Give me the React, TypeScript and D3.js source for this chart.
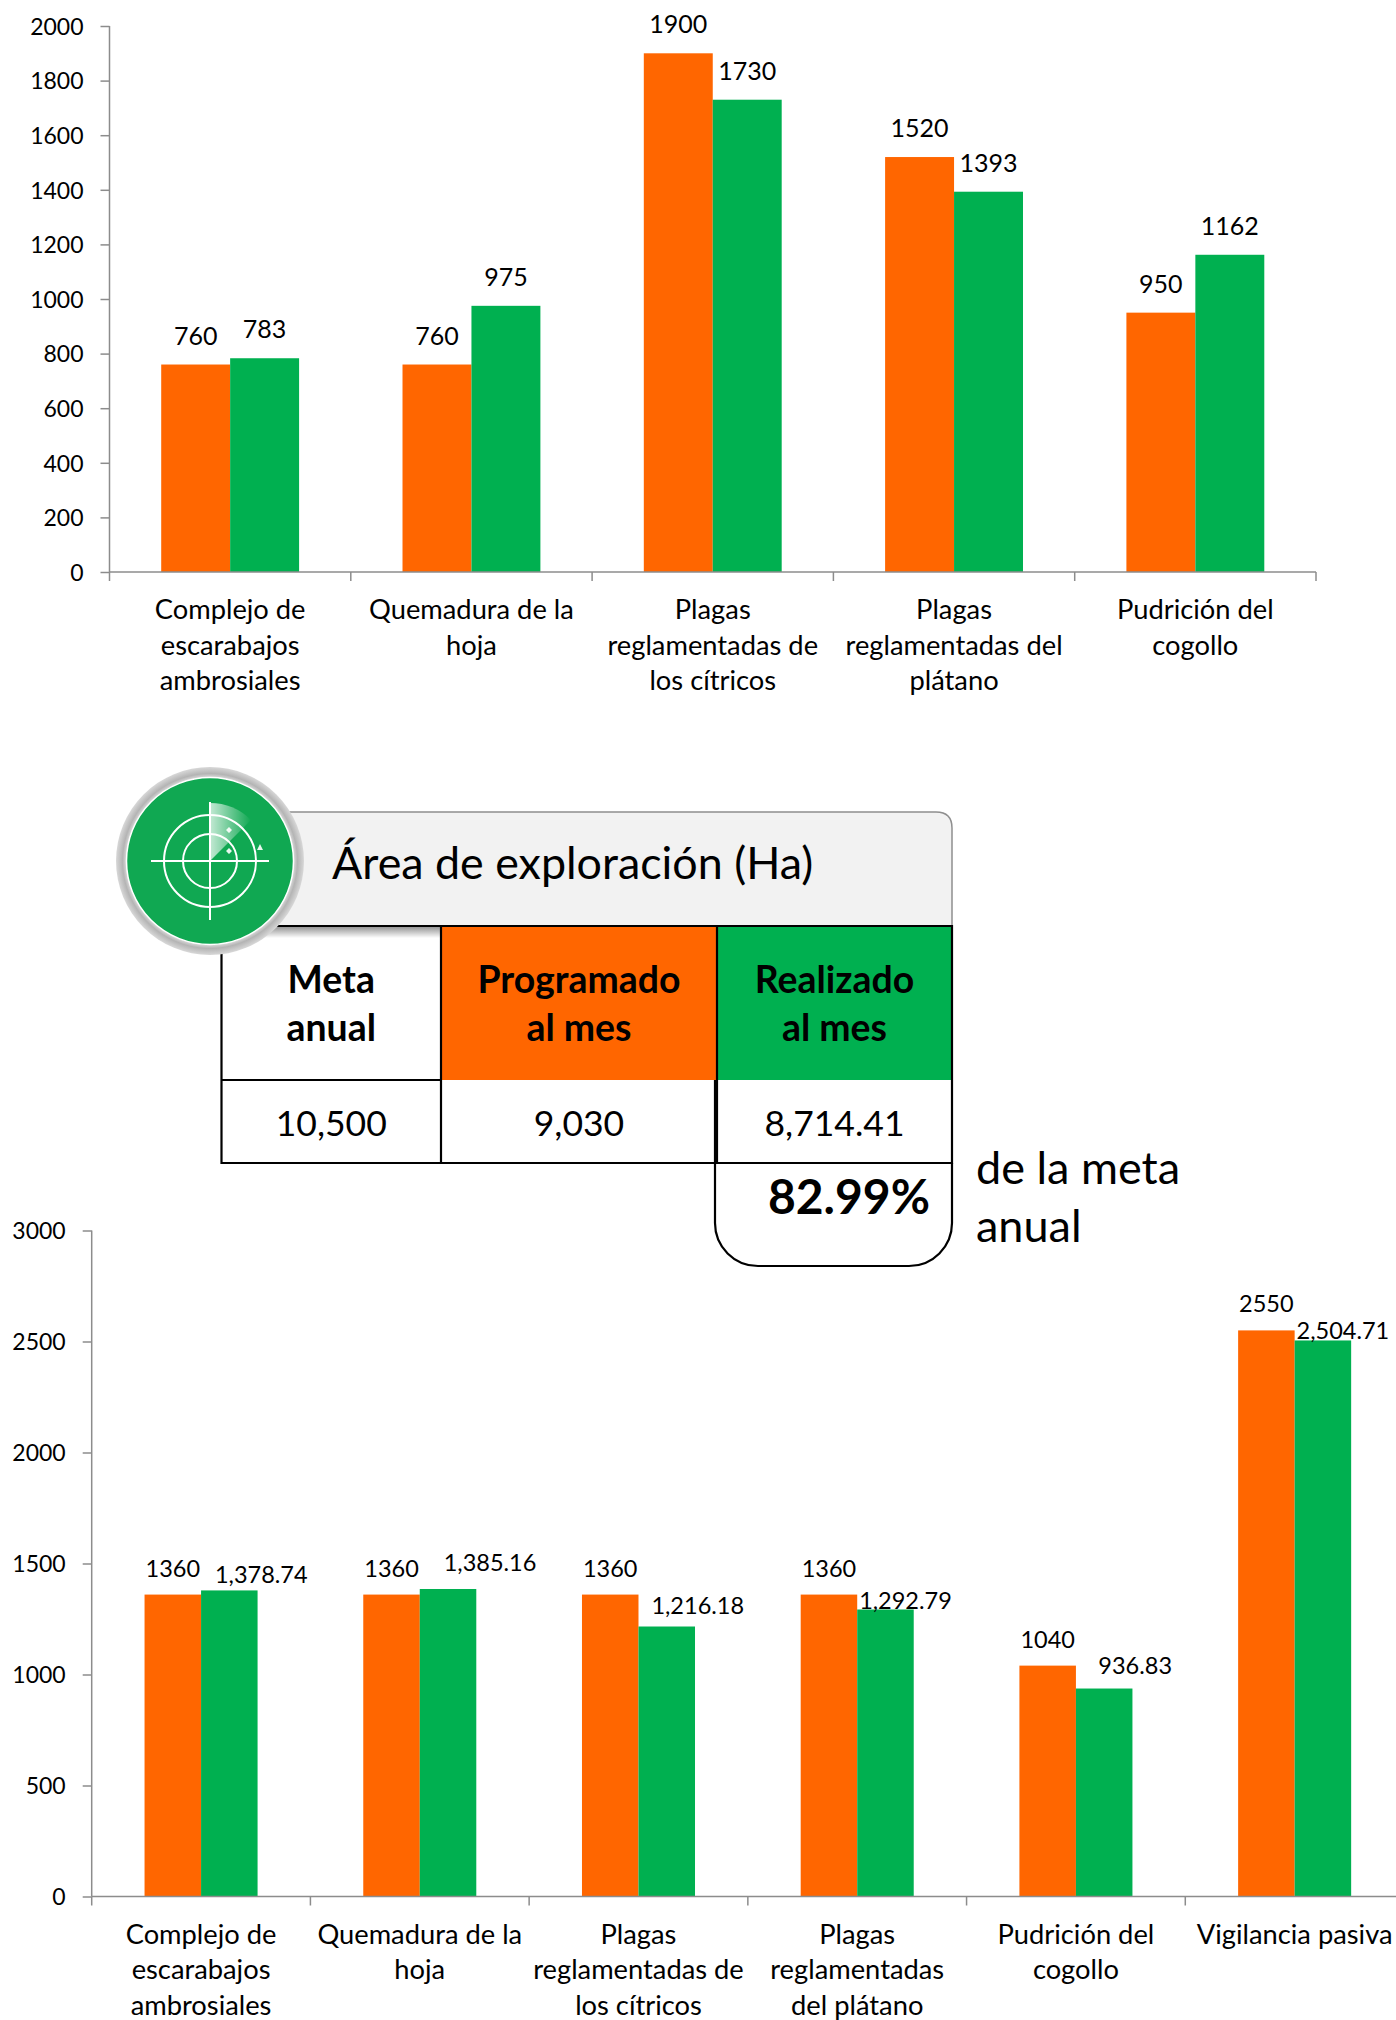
import React, { useEffect, useRef } from 'react';
import * as d3 from 'd3';

// --- Data ---
const pestCategories = [
  ['Complejo de', 'escarabajos', 'ambrosiales'],
  ['Quemadura de la', 'hoja'],
  ['Plagas', 'reglamentadas de', 'los cítricos'],
  ['Plagas', 'reglamentadas del', 'plátano'],
  ['Pudrición del', 'cogollo'],
];
const pestProgrammed = [760, 760, 1900, 1520, 950];
const pestDone = [783, 975, 1730, 1393, 1162];
const pestTicks = d3.range(0, 2001, 200);

const areaCategories = [
  ['Complejo de', 'escarabajos', 'ambrosiales'],
  ['Quemadura de la', 'hoja'],
  ['Plagas', 'reglamentadas de', 'los cítricos'],
  ['Plagas', 'reglamentadas', 'del plátano'],
  ['Pudrición del', 'cogollo'],
  ['Vigilancia pasiva'],
];
const areaProgrammed = [1360, 1360, 1360, 1360, 1040, 2550];
const areaDone = [1378.74, 1385.16, 1216.18, 1292.79, 936.83, 2504.71];
const areaDoneLabels = ['1,378.74', '1,385.16', '1,216.18', '1,292.79', '936.83', '2,504.71'];
const areaTicks = d3.range(0, 3001, 500);

const tableHeaders = [['Meta', 'anual'], ['Programado', 'al mes'], ['Realizado', 'al mes']];
const tableValues = ['10,500', '9,030', '8,714.41'];

const ORANGE = '#ff6600';
const GREEN = '#00b050';
const AXIS = '#8c8c8c';
const FONT = 'Lato, sans-serif';

type ChartProps = {
  categories: string[][];
  programmed: number[];
  done: number[];
  doneLabels?: string[];
  ticks: number[];
  maxValue: number;
  left: number;
  right: number;
  top: number;
  bottom: number;
  outerPad: number;
  labelDy: number;
  labelSize: number;
  doneDx?: number[];
  doneDy?: number[];
};

const BarChart: React.FC<ChartProps> = (p) => {
  const ref = useRef<SVGGElement | null>(null);

  useEffect(() => {
    if (!ref.current) return;
    const g = d3.select(ref.current);
    g.selectAll('*').remove();

    const x0 = d3.scaleBand<number>().domain(d3.range(p.categories.length)).range([p.left, p.right]);
    const x1 = d3.scaleBand<number>().domain([0, 1]).range([0, x0.bandwidth()]).paddingInner(0).paddingOuter(p.outerPad);
    const y = d3.scaleLinear().domain([0, p.maxValue]).range([p.bottom, p.top]);

    // bars
    [p.programmed, p.done].forEach((vals, s) => {
      g.selectAll(`.bar-${s}`).data(vals).enter().append('rect')
        .attr('x', (_, i) => x0(i)! + x1(s)!)
        .attr('y', d => y(d))
        .attr('width', x1.bandwidth())
        .attr('height', d => p.bottom - y(d))
        .attr('fill', s === 0 ? ORANGE : GREEN);
    });

    // y axis
    const yAxis = g.append('g').attr('transform', `translate(${p.left},0)`)
      .call(d3.axisLeft(y).tickValues(p.ticks).tickSize(9).tickPadding(17).tickFormat(d3.format('d') as any));
    yAxis.selectAll('line,path').attr('stroke', AXIS).attr('stroke-width', 1.5);
    yAxis.select('.domain').attr('d', `M0,${p.top}V${p.bottom}`);
    yAxis.selectAll('text').attr('font-family', FONT).attr('font-size', 23).attr('fill', '#000').attr('dy', '0.36em');

    // x axis
    const xAxis = g.append('g').attr('transform', `translate(0,${p.bottom})`);
    xAxis.append('line').attr('x1', p.left).attr('x2', p.right).attr('stroke', AXIS).attr('stroke-width', 1.5);
    xAxis.selectAll('.tk').data(d3.range(p.categories.length + 1)).enter().append('line')
      .attr('x1', i => p.left + i * x0.step()).attr('x2', i => p.left + i * x0.step())
      .attr('y1', 0).attr('y2', 9)
      .attr('stroke', AXIS).attr('stroke-width', 1.5);

    // category labels
    p.categories.forEach((lines, i) => {
      lines.forEach((line, j) => {
        xAxis.append('text')
          .attr('x', x0(i)! + x0.bandwidth() / 2)
          .attr('y', 47 + j * 35.7)
          .attr('text-anchor', 'middle')
          .attr('font-family', FONT).attr('font-size', 27.3).attr('fill', '#000')
          .text(line);
      });
    });

    // value labels
    const label = (vals: number[], s: number, text: (i: number) => string, dx: number[], dy: number[]) => {
      g.selectAll(`.lab-${s}`).data(vals).enter().append('text')
        .attr('x', (_, i) => x0(i)! + x1(s)! + x1.bandwidth() / 2 + dx[i])
        .attr('y', (d, i) => y(d) - p.labelDy + dy[i])
        .attr('text-anchor', 'middle')
        .attr('font-family', FONT).attr('font-size', p.labelSize).attr('fill', '#000')
        .text((_, i) => text(i));
    };
    const zeros = p.categories.map(() => 0);
    label(p.programmed, 0, i => String(p.programmed[i]), zeros, zeros);
    label(p.done, 1, i => (p.doneLabels ? p.doneLabels[i] : String(p.done[i])), p.doneDx ?? zeros, p.doneDy ?? zeros);
  }, [p]);

  return <g ref={ref} />;
};

const T: React.FC<{ x: number; y: number; size: number; bold?: boolean; anchor?: string; children: React.ReactNode }> = ({ x, y, size, bold, anchor = 'middle', children }) => (
  <text x={x} y={y} fontFamily={FONT} fontSize={size} fontWeight={bold ? 700 : 400} textAnchor={anchor as any} fill="#000">{children}</text>
);

const App: React.FC = () => {
  const cols = [221.5, 441, 717, 952];
  return (
    <svg width={1396} height={2020} style={{ position: 'absolute', left: 0, top: 0, display: 'block' }}>
      <defs>
        <linearGradient id="drop" x1="0" y1="0" x2="0" y2="1">
          <stop offset="0" stopColor="#000" stopOpacity={0.45} />
          <stop offset="1" stopColor="#000" stopOpacity={0} />
        </linearGradient>
        <linearGradient id="sweep" x1="0" y1="0" x2="1" y2="0">
          <stop offset="0" stopColor="#fff" stopOpacity={0.75} />
          <stop offset="1" stopColor="#fff" stopOpacity={0} />
        </linearGradient>
        <radialGradient id="rim" cx="0.5" cy="0.5" r="0.5">
          <stop offset="0.85" stopColor="#ffffff" />
          <stop offset="0.93" stopColor="#b4b4b4" />
          <stop offset="1" stopColor="#d8d8d8" />
        </radialGradient>
      </defs>

      <BarChart
        categories={pestCategories} programmed={pestProgrammed} done={pestDone} ticks={pestTicks}
        maxValue={2000} left={109.5} right={1316} top={26} bottom={572} outerPad={0.75} labelDy={20} labelSize={25}
      />

      {/* banner */}
      <path d="M270,812 H936 Q952,812 952,828 V926 H270 Z" fill="#f2f2f2" stroke="#8f8f8f" strokeWidth={1.5} />
      <T x={332} y={879} size={44.8} anchor="start">Área de exploración (Ha)</T>

      {/* table */}
      <rect x={cols[1]} y={926} width={cols[2] - cols[1]} height={154} fill={ORANGE} />
      <rect x={cols[2]} y={926} width={cols[3] - cols[2]} height={154} fill={GREEN} />
      <rect x={cols[0]} y={926} width={cols[1] - cols[0]} height={12} fill="url(#drop)" />
      <g stroke="#000" strokeWidth={2.2} fill="none">
        <path d={`M${cols[0]},926 H${cols[3]} V1163 H${cols[0]} Z`} />
        <path d={`M${cols[1]},926 V1163 M${cols[2]},926 V1163 M${cols[0]},1080 H${cols[1]}`} />
        <path d="M715,1080 V1223 A43,43 0 0 0 758,1266 H909 A43,43 0 0 0 952,1223 V1163" />
      </g>
      {tableHeaders.map((lines, i) => lines.map((line, j) => (
        <T key={line + i} x={(cols[i] + cols[i + 1]) / 2} y={993 + j * 48} size={37.4} bold>{line}</T>
      )))}
      {tableValues.map((v, i) => (
        <T key={v} x={(cols[i] + cols[i + 1]) / 2} y={1136} size={35.5}>{v}</T>
      ))}
      <T x={930} y={1214} size={48} bold anchor="end">82.99%</T>
      <T x={976} y={1184} size={45} anchor="start">de la meta</T>
      <T x={976} y={1242} size={45} anchor="start">anual</T>

      {/* radar badge */}
      <g transform="translate(210,861)">
        <circle r={94} fill="url(#rim)" />
        <circle r={83.5} fill="#10a852" stroke="#fff" strokeWidth={1.5} />
        <path d="M0,-58 A58,58 0 0 1 41,-41 L0,0 Z" fill="url(#sweep)" />
        <g stroke="#fff" strokeWidth={2} fill="none">
          <circle r={46} />
          <circle r={27} />
          <path d="M-59,0 H59 M0,-59 V59" />
        </g>
        <path d="M19,-34 l3,3 l-3,3 l-3,-3 Z M19,-13 l3,3 l-3,3 l-3,-3 Z M53,-11 l-3,-6 l-3,6 Z" fill="#fff" opacity={0.9} />
      </g>

      <BarChart
        categories={areaCategories} programmed={areaProgrammed} done={areaDone} doneLabels={areaDoneLabels} ticks={areaTicks}
        maxValue={3000} left={91.7} right={1404} top={1230.5} bottom={1896.5} outerPad={0.935} labelDy={18} labelSize={23.5}
        doneDx={[32, 42, 31, 20, 31, 20]}
        doneDy={[10.6, 0, 5.6, 17, 3, 17]}
      />
    </svg>
  );
};

export default App;
